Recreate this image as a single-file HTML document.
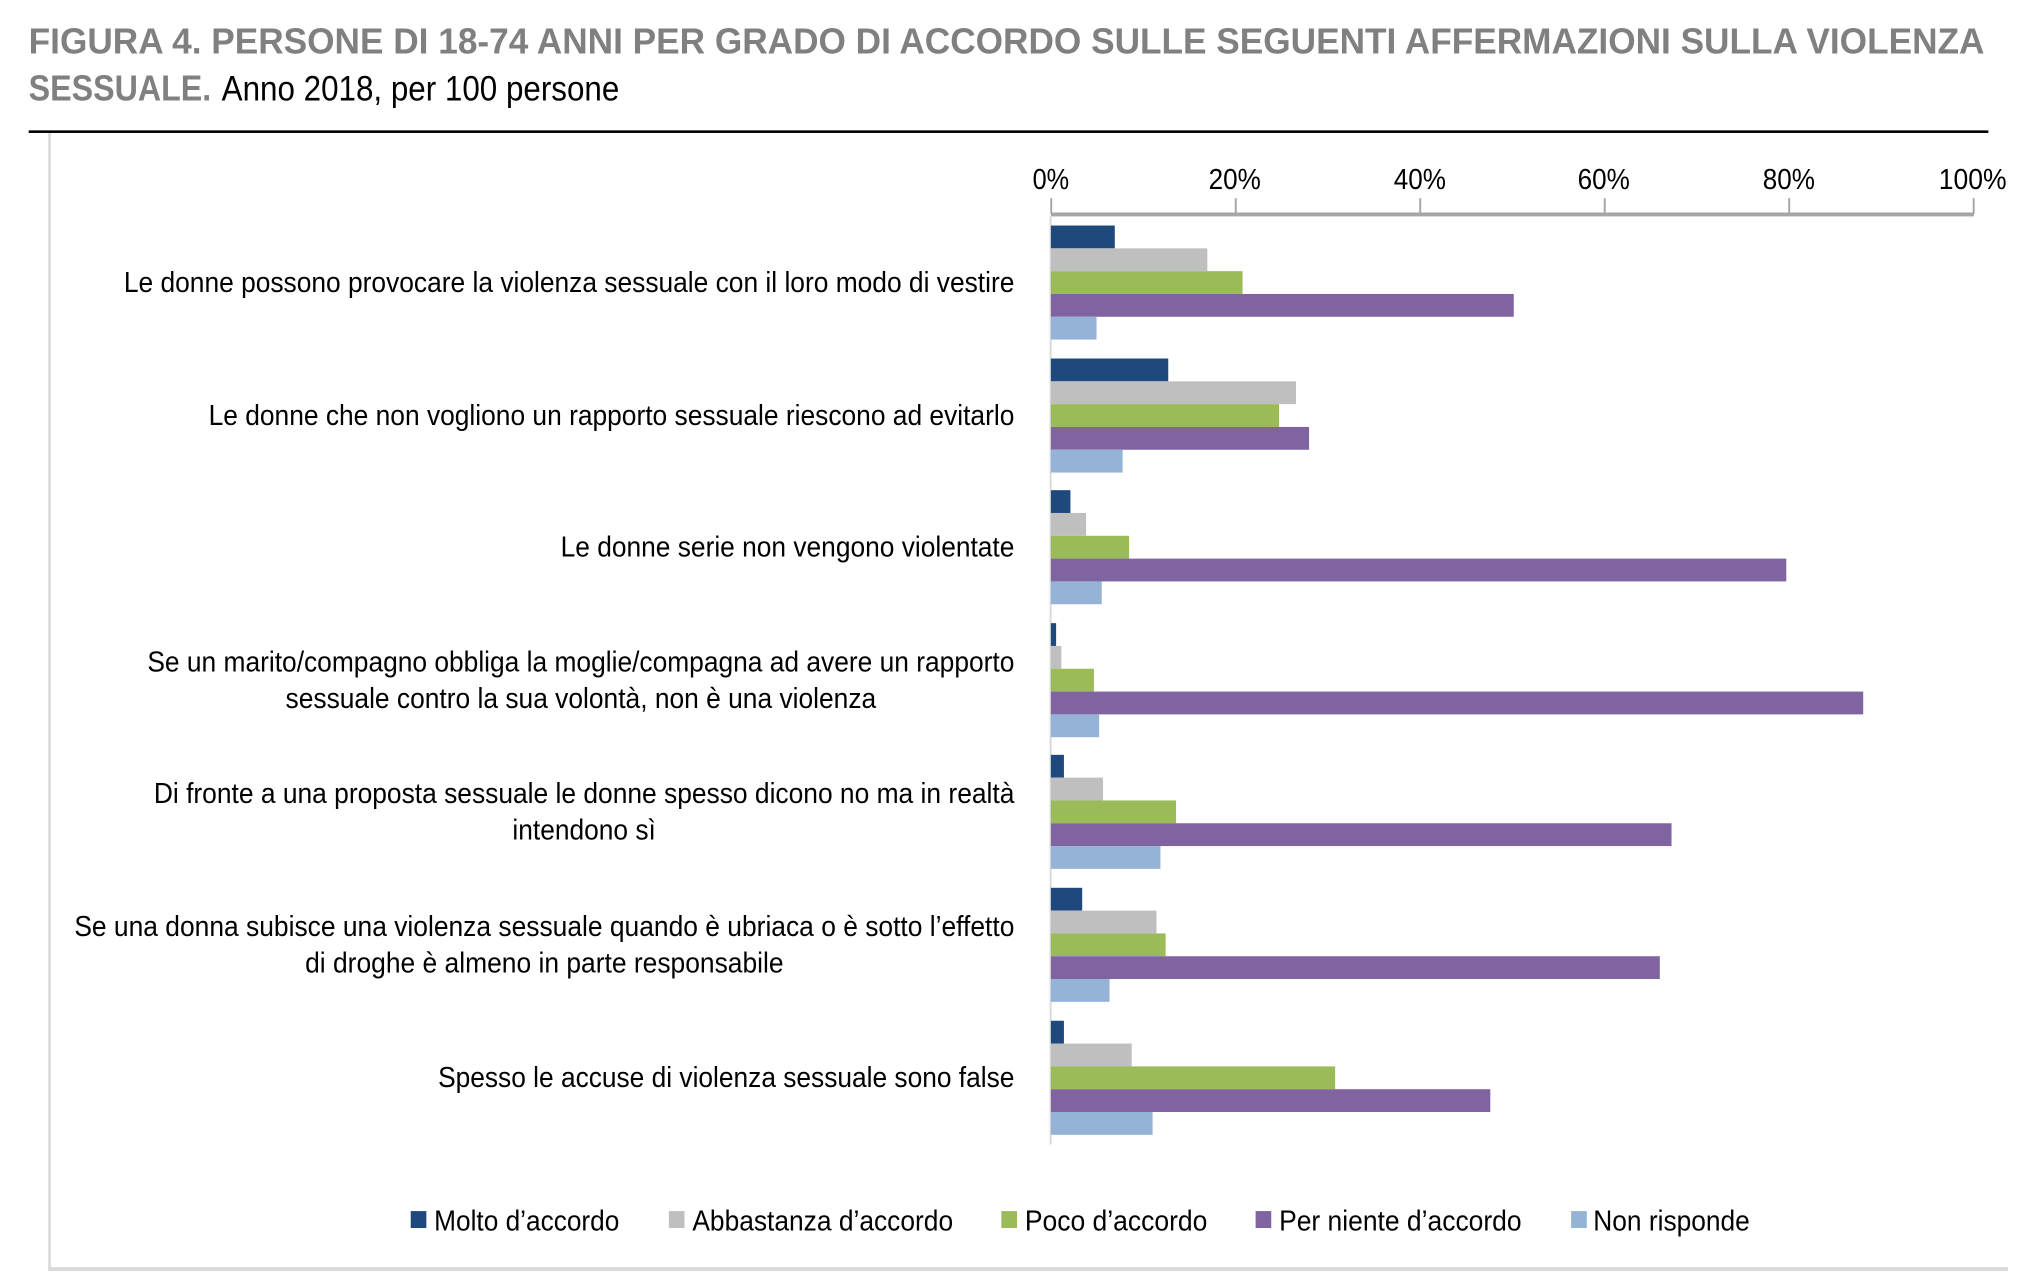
<!DOCTYPE html>
<html><head><meta charset="utf-8"><style>
html,body{margin:0;padding:0;background:#fff;}
svg{display:block;}
text{font-family:"Liberation Sans Narrow","Liberation Sans",sans-serif;}
</style></head><body>
<svg width="2034" height="1288" viewBox="0 0 1560 988" preserveAspectRatio="none" xmlns="http://www.w3.org/2000/svg">
<text x="22" y="41" font-size="28" font-weight="bold" fill="#808080" textLength="1500" lengthAdjust="spacingAndGlyphs">FIGURA 4. PERSONE DI 18-74 ANNI PER GRADO DI ACCORDO SULLE SEGUENTI AFFERMAZIONI SULLA VIOLENZA</text>
<text x="22" y="77" font-size="28" font-weight="bold" fill="#808080" textLength="140" lengthAdjust="spacingAndGlyphs">SESSUALE.</text>
<text x="170" y="77" font-size="27" fill="#000" textLength="305" lengthAdjust="spacingAndGlyphs">Anno 2018, per 100 persone</text>
<rect x="22" y="100" width="1503" height="2" fill="#000"/>
<rect x="37" y="102" width="2" height="872" fill="#d9d9d9"/>
<rect x="37" y="972" width="1503" height="3" fill="#d9d9d9"/>
<!-- axis -->
<rect x="806" y="163" width="708" height="3" fill="#a6a6a6"/>
<g fill="#a6a6a6">
<rect x="805.5" y="152" width="1.5" height="12"/><rect x="947" y="152" width="1.5" height="12"/><rect x="1088.5" y="152" width="1.5" height="12"/><rect x="1230" y="152" width="1.5" height="12"/><rect x="1371.5" y="152" width="1.5" height="12"/><rect x="1513" y="152" width="1.5" height="12"/>
</g>
<rect x="805" y="166" width="1.5" height="712" fill="#d9d9d9"/>
<g font-size="22" fill="#000" text-anchor="middle">
<text x="806" y="145" textLength="28" lengthAdjust="spacingAndGlyphs">0%</text>
<text x="947" y="145" textLength="40" lengthAdjust="spacingAndGlyphs">20%</text>
<text x="1089" y="145" textLength="40" lengthAdjust="spacingAndGlyphs">40%</text>
<text x="1230" y="145" textLength="40" lengthAdjust="spacingAndGlyphs">60%</text>
<text x="1372" y="145" textLength="40" lengthAdjust="spacingAndGlyphs">80%</text>
<text x="1513" y="145" textLength="52" lengthAdjust="spacingAndGlyphs">100%</text>
</g>
<g id="bars">
<!-- group 1 y0=173 -->
<rect x="806" y="173" width="49" height="17.5" fill="#1F497D"/>
<rect x="806" y="190.5" width="120" height="17.5" fill="#BFBFBF"/>
<rect x="806" y="208" width="147" height="17.5" fill="#9BBB59"/>
<rect x="806" y="225.5" width="355" height="17.5" fill="#8064A2"/>
<rect x="806" y="243" width="35" height="17.5" fill="#95B3D7"/>
<!-- group 2 y0=275 -->
<rect x="806" y="275" width="90" height="17.5" fill="#1F497D"/>
<rect x="806" y="292.5" width="188" height="17.5" fill="#BFBFBF"/>
<rect x="806" y="310" width="175" height="17.5" fill="#9BBB59"/>
<rect x="806" y="327.5" width="198" height="17.5" fill="#8064A2"/>
<rect x="806" y="345" width="55" height="17.5" fill="#95B3D7"/>
<!-- group 3 y0=376 -->
<rect x="806" y="376" width="15" height="17.5" fill="#1F497D"/>
<rect x="806" y="393.5" width="27" height="17.5" fill="#BFBFBF"/>
<rect x="806" y="411" width="60" height="17.5" fill="#9BBB59"/>
<rect x="806" y="428.5" width="564" height="17.5" fill="#8064A2"/>
<rect x="806" y="446" width="39" height="17.5" fill="#95B3D7"/>
<!-- group 4 y0=478 -->
<rect x="806" y="478" width="4" height="17.5" fill="#1F497D"/>
<rect x="806" y="495.5" width="8" height="17.5" fill="#BFBFBF"/>
<rect x="806" y="513" width="33" height="17.5" fill="#9BBB59"/>
<rect x="806" y="530.5" width="623" height="17.5" fill="#8064A2"/>
<rect x="806" y="548" width="37" height="17.5" fill="#95B3D7"/>
<!-- group 5 y0=579 -->
<rect x="806" y="579" width="10" height="17.5" fill="#1F497D"/>
<rect x="806" y="596.5" width="40" height="17.5" fill="#BFBFBF"/>
<rect x="806" y="614" width="96" height="17.5" fill="#9BBB59"/>
<rect x="806" y="631.5" width="476" height="17.5" fill="#8064A2"/>
<rect x="806" y="649" width="84" height="17.5" fill="#95B3D7"/>
<!-- group 6 y0=681 -->
<rect x="806" y="681" width="24" height="17.5" fill="#1F497D"/>
<rect x="806" y="698.5" width="81" height="17.5" fill="#BFBFBF"/>
<rect x="806" y="716" width="88" height="17.5" fill="#9BBB59"/>
<rect x="806" y="733.5" width="467" height="17.5" fill="#8064A2"/>
<rect x="806" y="751" width="45" height="17.5" fill="#95B3D7"/>
<!-- group 7 y0=783 -->
<rect x="806" y="783" width="10" height="17.5" fill="#1F497D"/>
<rect x="806" y="800.5" width="62" height="17.5" fill="#BFBFBF"/>
<rect x="806" y="818" width="218" height="17.5" fill="#9BBB59"/>
<rect x="806" y="835.5" width="337" height="17.5" fill="#8064A2"/>
<rect x="806" y="853" width="78" height="17.5" fill="#95B3D7"/>
</g>
<g font-size="22" fill="#000">
<text x="778" y="224" text-anchor="end" textLength="683" lengthAdjust="spacingAndGlyphs">Le donne possono provocare la violenza sessuale con il loro modo di vestire</text>
<text x="778" y="326" text-anchor="end" textLength="618" lengthAdjust="spacingAndGlyphs">Le donne che non vogliono un rapporto sessuale riescono ad evitarlo</text>
<text x="778" y="427" text-anchor="end" textLength="348" lengthAdjust="spacingAndGlyphs">Le donne serie non vengono violentate</text>
<text x="445.5" y="515" text-anchor="middle" textLength="665" lengthAdjust="spacingAndGlyphs">Se un marito/compagno obbliga la moglie/compagna ad avere un rapporto</text>
<text x="445.5" y="543" text-anchor="middle" textLength="453" lengthAdjust="spacingAndGlyphs">sessuale contro la sua volontà, non è una violenza</text>
<text x="448" y="616" text-anchor="middle" textLength="660" lengthAdjust="spacingAndGlyphs">Di fronte a una proposta sessuale le donne spesso dicono no ma in realtà</text>
<text x="448" y="644" text-anchor="middle" textLength="110" lengthAdjust="spacingAndGlyphs">intendono sì</text>
<text x="417.5" y="718" text-anchor="middle" textLength="721" lengthAdjust="spacingAndGlyphs">Se una donna subisce una violenza sessuale quando è ubriaca o è sotto l’effetto</text>
<text x="417.5" y="746" text-anchor="middle" textLength="367" lengthAdjust="spacingAndGlyphs">di droghe è almeno in parte responsabile</text>
<text x="778" y="834" text-anchor="end" textLength="442" lengthAdjust="spacingAndGlyphs">Spesso le accuse di violenza sessuale sono false</text>
</g>
<g font-size="22" fill="#000">
<rect x="315" y="929" width="12" height="13" fill="#1F497D"/>
<text x="333" y="944" textLength="142" lengthAdjust="spacingAndGlyphs">Molto d’accordo</text>
<rect x="513" y="929" width="12" height="13" fill="#BFBFBF"/>
<text x="531" y="944" textLength="200" lengthAdjust="spacingAndGlyphs">Abbastanza d’accordo</text>
<rect x="768" y="929" width="12" height="13" fill="#9BBB59"/>
<text x="786" y="944" textLength="140" lengthAdjust="spacingAndGlyphs">Poco d’accordo</text>
<rect x="963" y="929" width="12" height="13" fill="#8064A2"/>
<text x="981" y="944" textLength="186" lengthAdjust="spacingAndGlyphs">Per niente d’accordo</text>
<rect x="1205" y="929" width="12" height="13" fill="#95B3D7"/>
<text x="1222" y="944" textLength="120" lengthAdjust="spacingAndGlyphs">Non risponde</text>
</g>
</svg>
</body></html>
